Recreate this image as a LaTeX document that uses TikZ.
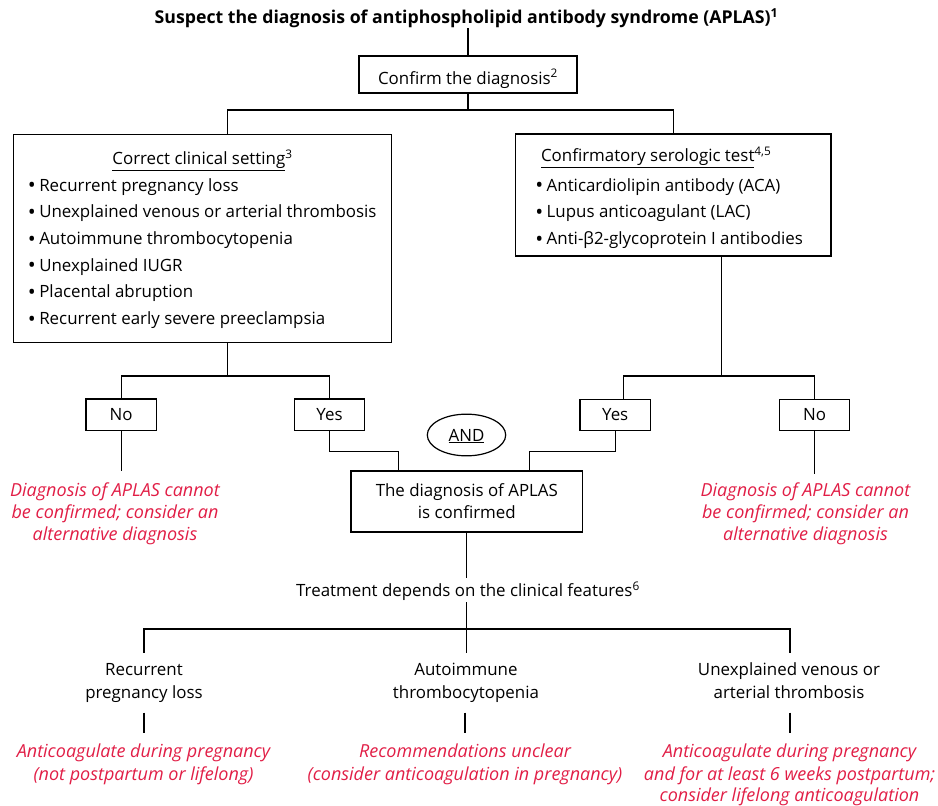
\documentclass[tikz,border=0pt]{standalone}
\usepackage{fontspec}
\setmainfont{Open Sans}
\usetikzlibrary{shapes.geometric}
\definecolor{alert}{RGB}{225,30,70}
\newcommand{\bodyfont}{\fontsize{16.9}{22}\selectfont}
\newcommand{\notefont}{\fontsize{18}{22}\selectfont\itshape}
\newcommand{\headfont}{\fontsize{17.7}{22}\selectfont\bfseries}
\newcommand{\itemdot}{\llap{\raisebox{-1.8pt}{\scalebox{1.25}{\textbullet}}\hskip3.5pt}}
\tikzset{
  every node/.style={inner sep=0pt, outer sep=0pt},
  frame/.style={draw, line width=1.2pt},
  txt/.style={font=\bodyfont, anchor=base},
  itm/.style={font=\bodyfont, anchor=base west},
  note/.style={font=\notefont, text=alert, anchor=base},
  link/.style={line width=1.2pt},
  answer/.style={frame, minimum width=70.3pt, minimum height=31.3pt}
}
\begin{document}
\begin{tikzpicture}[x=1pt,y=-1pt]
\useasboundingbox (0,0) rectangle (938,806);

% heading
\node[txt, font=\headfont] (title) at (466.5,23.5)
  {Suspect the diagnosis of antiphospholipid antibody syndrome (APLAS)\textsuperscript{1}};

% confirm step
\node[frame, minimum width=218pt, minimum height=37pt] (confirm) at (468,74.5) {};
\node[txt] (confirmtxt) at (468,84) {Confirm the diagnosis\textsuperscript{2}};

% clinical setting box
\node[frame, minimum width=378.4pt, minimum height=207.6pt] (setting) at (202.5,238.5) {};
\node[txt] (settinghead) at (202.5,164.3) {\underline{Correct clinical setting}\textsuperscript{3}};
\node[itm] (s1) at (39.3,191)   {\itemdot Recurrent pregnancy loss};
\node[itm] (s2) at (39.3,217.7) {\itemdot Unexplained venous or arterial thrombosis};
\node[itm] (s3) at (39.3,244.3) {\itemdot Autoimmune thrombocytopenia};
\node[itm] (s4) at (39.3,271)   {\itemdot Unexplained IUGR};
\node[itm] (s5) at (39.3,297.7) {\itemdot Placental abruption};
\node[itm] (s6) at (39.3,324.3) {\itemdot Recurrent early severe preeclampsia};

% serologic test box
\node[frame, minimum width=315.3pt, minimum height=122pt] (serology) at (673.4,195) {};
\node[itm] (serohead) at (541,161.7) {\underline{Confirmatory serologic test}\textsuperscript{4,5}};
\node[itm] (t1) at (546.7,191)   {\itemdot Anticardiolipin antibody (ACA)};
\node[itm] (t2) at (546.7,217.7) {\itemdot Lupus anticoagulant (LAC)};
\node[itm] (t3) at (546.7,244.3) {\itemdot Anti-β2-glycoprotein I antibodies};

% answers
\node[answer] (noL)  at (121.2,414.7) {};
\node[txt] (noLtxt) at (121.2,420.5) {No};
\node[answer] (yesL) at (329.5,414.7) {};
\node[txt] (yesLtxt) at (329.5,420.5) {Yes};
\node[answer] (yesR) at (615.2,415) {};
\node[txt] (yesRtxt) at (615.2,420.8) {Yes};
\node[answer] (noR)  at (814.5,415) {};
\node[txt] (noRtxt) at (814.5,420.8) {No};

\node[draw, ellipse, line width=1.2pt, minimum width=78.4pt, minimum height=41.7pt] (and) at (466.5,435) {};
\node[txt] (andtxt) at (466.5,441) {\underline{AND}};

% confirmed diagnosis
\node[frame, minimum width=231.7pt, minimum height=61pt] (verdict) at (466.85,501.5) {};
\node[txt] (v1) at (466.85,496.7) {The diagnosis of APLAS};
\node[txt] (v2) at (466.85,518.7) {is confirmed};

% rejected diagnosis notes
\node[note] (nl1) at (115,496)   {Diagnosis of APLAS cannot};
\node[note] (nl2) at (115,518.3) {be confirmed; consider an};
\node[note] (nl3) at (115,540.5) {alternative diagnosis};
\node[note] (nr1) at (805.5,496)   {Diagnosis of APLAS cannot};
\node[note] (nr2) at (805.5,518.3) {be confirmed; consider an};
\node[note] (nr3) at (805.5,540.5) {alternative diagnosis};

% treatment
\node[txt] (treat) at (468,596.7) {Treatment depends on the clinical features\textsuperscript{6}};

\node[txt] (c1a) at (144,675) {Recurrent};
\node[txt] (c1b) at (144,698) {pregnancy loss};
\node[txt] (c2a) at (466,675) {Autoimmune};
\node[txt] (c2b) at (466,698) {thrombocytopenia};
\node[txt] (c3a) at (789,675) {Unexplained venous or};
\node[txt] (c3b) at (789,698) {arterial thrombosis};

\node[note] (r1a) at (143.5,757.5) {Anticoagulate during pregnancy};
\node[note] (r1b) at (143.5,780)   {(not postpartum or lifelong)};
\node[note] (r2a) at (465,757.5)   {Recommendations unclear};
\node[note] (r2b) at (465,780)     {(consider anticoagulation in pregnancy)};
\node[note] (r3a) at (789.5,757.5) {Anticoagulate during pregnancy};
\node[note] (r3b) at (789.5,780)   {and for at least 6 weeks postpartum;};
\node[note] (r3c) at (789.5,801.5) {consider lifelong anticoagulation};

% junctions and free ends
\coordinate (split)  at (468,110);
\coordinate (lsplit) at (227.7,376);
\coordinate (rsplit) at (721.3,376);
\coordinate (ljoin)  at (398.3,451.5);
\coordinate (rjoin)  at (529.7,451.5);
\coordinate (noLend) at (121.2,471);
\coordinate (noRend) at (814.5,474);
\coordinate (treattop) at (466.85,578);
\coordinate (treatbot) at (466.85,602);
\coordinate (tsplit) at (466.85,629);
\coordinate (b1) at (144,652.7);
\coordinate (b2) at (466.85,652.7);
\coordinate (b3) at (790,652.7);
\coordinate (d1top) at (144,712.7);
\coordinate (d1bot) at (144,733.3);
\coordinate (d2top) at (465,712.7);
\coordinate (d2bot) at (465,733.3);
\coordinate (d3top) at (790,712.7);
\coordinate (d3bot) at (790,733.3);

% connectors
\draw[link] (confirm.north |- title.south) -- (confirm.north);
\draw[link] (confirm.south) -- (split);
\draw[link] (setting.north -| lsplit) |- (split) -| (serology.north);
\draw[link] (setting.south -| lsplit) -- (lsplit);
\draw[link] (noL.north) |- (lsplit) -| (yesL.north);
\draw[link] (serology.south -| rsplit) -- (rsplit);
\draw[link] (yesR.north -| 623.3,0) |- (rsplit) -| (noR.north);
\draw[link] (yesL.south) |- (ljoin) -- (ljoin |- verdict.north);
\draw[link] (yesR.south) |- (rjoin) -- (rjoin |- verdict.north);
\draw[link] (noL.south) -- (noLend);
\draw[link] (noR.south) -- (noRend);
\draw[link] (verdict.south) -- (treattop);
\draw[link] (treatbot) -- (tsplit);
\draw[link] (b1) |- (tsplit) -| (b3);
\draw[link] (tsplit) -- (b2);
\draw[link] (d1top) -- (d1bot);
\draw[link] (d2top) -- (d2bot);
\draw[link] (d3top) -- (d3bot);
\end{tikzpicture}
\end{document}
